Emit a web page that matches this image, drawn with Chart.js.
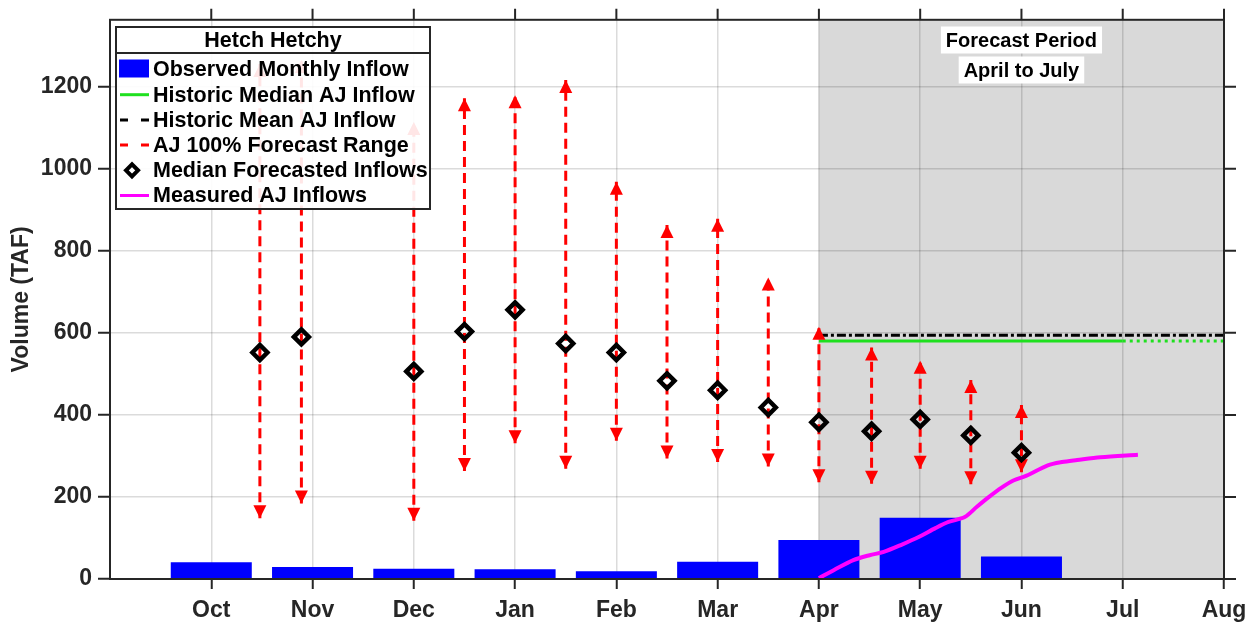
<!DOCTYPE html>
<html>
<head>
<meta charset="utf-8">
<script src="https://cdn.jsdelivr.net/npm/chart.js@4.4.0/dist/chart.umd.min.js"></script>
<style>
  html, body { margin: 0; padding: 0; background: #fff; }
  #wrap { width: 1257px; height: 630px; }
</style>
</head>
<body>
<div id="wrap"><canvas id="chart"></canvas></div>
<script>
// x is in months counted from Sep 1 (1 = Oct 1, 7 = Apr 1, 11 = Aug 1)
const monthLabels = ['Oct', 'Nov', 'Dec', 'Jan', 'Feb', 'Mar', 'Apr', 'May', 'Jun', 'Jul', 'Aug'];
const monthTicks = [1, 2, 3, 4, 5, 6, 7, 8, 9, 10, 11];
const volumeTicks = [0, 200, 400, 600, 800, 1000, 1200];

const observedMonth = [1, 2, 3, 4, 5, 6, 7, 8, 9, 10];
const observedInflow = [41, 29, 25, 24, 19, 42, 95, 149, 55, 1];

const forecastMonth = [1.48, 1.89, 3, 3.5, 4, 4.5, 5, 5.5, 6, 6.5, 7, 7.52, 8, 8.5, 9];
const forecastMedian = [552, 590, 506, 603, 656, 574, 552, 483, 460, 418, 382, 360, 389, 350, 308];
const forecastLow = [148, 184, 142, 263, 331, 269, 337, 294, 285, 274, 236, 232, 269, 231, 260];
const forecastHigh = [1255, 1265, 1114, 1172, 1179, 1216, 968, 863, 878, 735, 615, 564, 532, 485, 424];

const historicMonth = [7, 10, 11];
const historicMedian = [580, 580, 580];
const historicMean = [594, 594, 594];

const measuredMonth = [7.0, 7.15, 7.34, 7.5, 7.64, 7.82, 7.99, 8.15, 8.28, 8.44, 8.56, 8.68, 8.8, 8.92, 9.05, 9.26, 9.4, 9.55, 9.78, 10.15];
const measuredInflow = [2, 22, 46, 58, 66, 84, 103, 124, 139, 151, 176, 200, 222, 240, 252, 277, 285, 290, 297, 303];

const forecastStart = 7;
const forecastEnd = 11;

const axisColor = '#262626';
const fontFamily = '"Liberation Sans", Arial, Helvetica, sans-serif';

const pts = (xs, ys) => xs.map((x, i) => ({ x: x, y: ys[i] }));

// range lines: low -> high for each forecast date, broken by nulls
const rangeData = [];
forecastMonth.forEach((m, i) => {
    rangeData.push({ x: m, y: forecastLow[i] }, { x: m, y: forecastHigh[i] }, { x: m, y: null });
});

const forecastShade = {
    id: 'forecastShade',
    beforeDraw(chart) {
        const { ctx, chartArea, scales } = chart;
        const x1 = scales.x.getPixelForValue(forecastStart);
        const x2 = scales.x.getPixelForValue(forecastEnd);
        ctx.save();
        ctx.fillStyle = '#d9d9d9';
        ctx.fillRect(x1, chartArea.top, x2 - x1, chartArea.bottom - chartArea.top);
        ctx.restore();
    }
};

const arrowHeads = {
    id: 'arrowHeads',
    afterDatasetDraw(chart, args) {
        if (chart.data.datasets[args.index].label !== 'AJ 100% Forecast Range') return;
        const { ctx, scales } = chart;
        ctx.save();
        ctx.fillStyle = '#ff0000';
        const head = (x, y, dir) => {
            ctx.beginPath();
            ctx.moveTo(x, y);
            ctx.lineTo(x - 6.5, y + dir * 13);
            ctx.lineTo(x + 6.5, y + dir * 13);
            ctx.closePath();
            ctx.fill();
        };
        forecastMonth.forEach((m, i) => {
            const x = scales.x.getPixelForValue(m);
            head(x, scales.y.getPixelForValue(forecastHigh[i]), 1);
            head(x, scales.y.getPixelForValue(forecastLow[i]), -1);
        });
        ctx.restore();
    }
};

const frameAndText = {
    id: 'frameAndText',
    afterDatasetsDraw(chart) {
        const { ctx, chartArea, scales } = chart;
        const { left, right, top, bottom } = chartArea;
        ctx.save();
        ctx.strokeStyle = axisColor;
        ctx.lineWidth = 2;
        ctx.strokeRect(left, top, right - left, bottom - top);
        ctx.beginPath();
        monthTicks.forEach(v => {
            const x = scales.x.getPixelForValue(v);
            ctx.moveTo(x, top);
            ctx.lineTo(x, top - 11);
        });
        volumeTicks.forEach(v => {
            const y = scales.y.getPixelForValue(v);
            ctx.moveTo(right, y);
            ctx.lineTo(right + 12, y);
        });
        ctx.stroke();

        // forecast period labels
        const cx = scales.x.getPixelForValue(9);
        ctx.font = 'bold 20px ' + fontFamily;
        ctx.textAlign = 'center';
        ctx.textBaseline = 'middle';
        [['Forecast Period', 40], ['April to July', 70]].forEach(([t, y]) => {
            const w = ctx.measureText(t).width + 10;
            ctx.fillStyle = '#ffffff';
            ctx.fillRect(cx - w / 2, y - 13.5, w, 27);
            ctx.fillStyle = '#000000';
            ctx.fillText(t, cx, y + 1);
        });
        ctx.restore();
    }
};

const boxLegend = {
    id: 'boxLegend',
    afterDraw(chart) {
        const ctx = chart.ctx;
        const x0 = 116, y0 = 27, w = 314, h = 182, head = 26;
        ctx.save();
        ctx.fillStyle = 'rgba(255,255,255,0.9)';
        ctx.fillRect(x0, y0, w, h);
        ctx.strokeStyle = axisColor;
        ctx.lineWidth = 2;
        ctx.strokeRect(x0, y0, w, h);
        ctx.beginPath();
        ctx.moveTo(x0, y0 + head);
        ctx.lineTo(x0 + w, y0 + head);
        ctx.stroke();

        ctx.font = 'bold 21.5px ' + fontFamily;
        ctx.fillStyle = '#000';
        ctx.textAlign = 'center';
        ctx.textBaseline = 'middle';
        ctx.fillText('Hetch Hetchy', x0 + w / 2, y0 + head / 2 + 1);

        ctx.textAlign = 'left';
        chart.data.datasets.forEach((ds, i) => {
            const y = 69.5 + i * 25.2;
            ctx.save();
            if (ds.type === 'bar') {
                ctx.fillStyle = ds.backgroundColor;
                ctx.fillRect(119, y - 10, 30, 18);
            } else if (ds.label === 'Median Forecasted Inflows') {
                ctx.strokeStyle = '#000';
                ctx.lineWidth = 4;
                ctx.beginPath();
                ctx.moveTo(132 - 6, y);
                ctx.lineTo(132, y - 6);
                ctx.lineTo(132 + 6, y);
                ctx.lineTo(132, y + 6);
                ctx.closePath();
                ctx.stroke();
            } else {
                ctx.strokeStyle = ds.borderColor;
                ctx.lineWidth = 3;
                ctx.beginPath();
                if (ds.legendDash) {
                    ctx.moveTo(120, y); ctx.lineTo(128, y);
                    ctx.moveTo(141, y); ctx.lineTo(149, y);
                } else {
                    ctx.moveTo(120, y); ctx.lineTo(149, y);
                }
                ctx.stroke();
            }
            ctx.restore();
            ctx.fillStyle = '#000';
            ctx.fillText(ds.label, 153, y + 1);
        });
        ctx.restore();
    }
};

new Chart(document.getElementById('chart'), {
    type: 'line',
    data: {
        datasets: [{
            type: 'bar',
            label: 'Observed Monthly Inflow',
            data: pts(observedMonth, observedInflow),
            backgroundColor: '#0000ff',
            categoryPercentage: 0.8,
            barPercentage: 1.0,
            order: 6
        }, {
            label: 'Historic Median AJ Inflow',
            data: pts(historicMonth, historicMedian),
            borderColor: '#1fe01f',
            borderWidth: 3,
            pointRadius: 0,
            segment: { borderDash: c => c.p0DataIndex === 1 ? [3, 4] : [] },
            order: 5
        }, {
            label: 'Historic Mean AJ Inflow',
            data: pts(historicMonth, historicMean),
            borderColor: '#000000',
            borderWidth: 3,
            borderDash: [9, 3, 3, 3],
            pointRadius: 0,
            legendDash: true,
            order: 4
        }, {
            label: 'AJ 100% Forecast Range',
            data: rangeData,
            borderColor: '#ff0000',
            borderWidth: 3,
            borderDash: [10, 6],
            pointRadius: 0,
            spanGaps: false,
            legendDash: true,
            order: 3
        }, {
            label: 'Median Forecasted Inflows',
            data: pts(forecastMonth, forecastMedian),
            showLine: false,
            pointStyle: 'rectRot',
            pointRadius: 7.5,
            pointBorderWidth: 4.5,
            pointBorderColor: '#000000',
            pointBackgroundColor: 'rgba(0,0,0,0)',
            order: 2
        }, {
            label: 'Measured AJ Inflows',
            data: pts(measuredMonth, measuredInflow),
            borderColor: '#ff00ff',
            borderWidth: 4,
            pointRadius: 0,
            tension: 0.3,
            order: 1
        }]
    },
    options: {
        responsive: true,
        maintainAspectRatio: false,
        animation: false,
        layout: { padding: { top: 17, right: 33, left: 0, bottom: 0 } },
        plugins: {
            legend: { display: false },
            tooltip: { enabled: false }
        },
        scales: {
            x: {
                type: 'linear',
                min: 0,
                max: 11,
                offset: false,
                afterBuildTicks: s => { s.ticks = monthTicks.map(v => ({ value: v })); },
                afterFit: s => { s.height = 51; },
                ticks: {
                    autoSkip: false,
                    maxRotation: 0,
                    padding: 8,
                    color: axisColor,
                    font: { family: fontFamily, size: 23, weight: 'bold' },
                    callback: v => monthLabels[monthTicks.indexOf(v)]
                },
                grid: { color: 'rgba(0,0,0,0.14)', lineWidth: 1.5, tickColor: axisColor, tickLength: 10, tickWidth: 2, offset: false },
                border: { display: false }
            },
            y: {
                min: 0,
                max: 1363,
                afterBuildTicks: s => { s.ticks = volumeTicks.map(v => ({ value: v })); },
                afterFit: s => { s.width = 110; },
                ticks: {
                    padding: 6,
                    color: axisColor,
                    font: { family: fontFamily, size: 23, weight: 'bold' },
                    callback: v => String(v)
                },
                grid: { color: 'rgba(0,0,0,0.14)', lineWidth: 1.5, tickColor: axisColor, tickLength: 12, tickWidth: 2 },
                border: { display: false },
                title: {
                    display: true,
                    text: 'Volume (TAF)',
                    color: axisColor,
                    padding: { top: 8, bottom: 0 },
                    font: { family: fontFamily, size: 23, weight: 'bold' }
                }
            }
        }
    },
    plugins: [forecastShade, arrowHeads, frameAndText, boxLegend]
});
</script>
</body>
</html>
